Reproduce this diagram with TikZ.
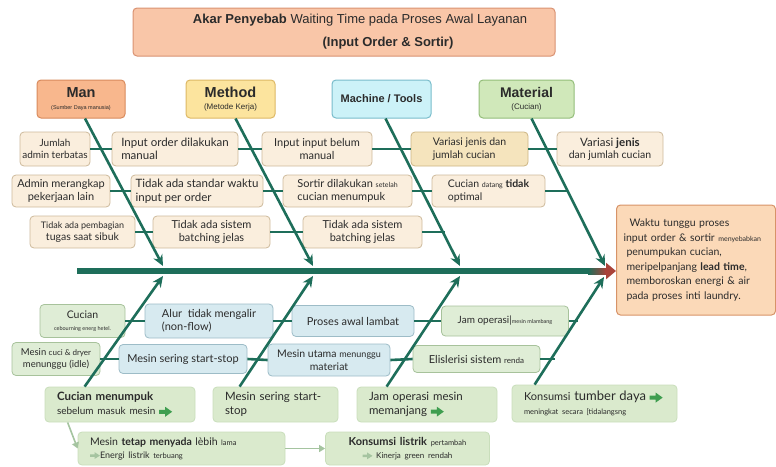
\documentclass[tikz,border=0pt]{standalone}
\usepackage{fontspec}
\setmainfont{Lato}
\newfontfamily\titlefont{Liberation Sans}
\usetikzlibrary{arrows.meta}

\definecolor{ink}{HTML}{2B2B2B}
\definecolor{spinegreen}{HTML}{1E6E5A}
\definecolor{effred}{HTML}{A9433A}
\definecolor{titlefill}{HTML}{F9C6A8}
\definecolor{titleline}{HTML}{D99272}
\definecolor{manfill}{HTML}{F8B78D}
\definecolor{manline}{HTML}{D88A5C}
\definecolor{methodfill}{HTML}{FCE49E}
\definecolor{methodline}{HTML}{DDB865}
\definecolor{machinefill}{HTML}{CCF2F8}
\definecolor{machineline}{HTML}{79BCCB}
\definecolor{materialfill}{HTML}{D0E8BA}
\definecolor{materialline}{HTML}{93BD79}
\definecolor{creamfill}{HTML}{FAEEDD}
\definecolor{creamline}{HTML}{CDB99B}
\definecolor{tanfill}{HTML}{F5E4BD}
\definecolor{tanline}{HTML}{CDB583}
\definecolor{sagefill}{HTML}{DFEDD6}
\definecolor{sageline}{HTML}{A7C29B}
\definecolor{skyfill}{HTML}{D7EAF0}
\definecolor{skyline}{HTML}{9DBCC7}
\definecolor{leaffill}{HTML}{DAEACD}
\definecolor{leafline}{HTML}{C9DEBB}
\definecolor{efffill}{HTML}{FBD9B8}
\definecolor{effline}{HTML}{D79368}
\definecolor{arrowgreen}{HTML}{3F9E50}
\definecolor{softgreen}{HTML}{A5C4A0}

\newcommand{\garrow}{\tikz[x=1pt,y=1pt,sharp corners,baseline=-3pt]{\fill[arrowgreen] (0,-2) -- (6,-2) -- (6,-5) -- (13,0) -- (6,5) -- (6,2) -- (0,2) -- cycle;}}
\newcommand{\sarrow}{\tikz[x=1pt,y=1pt,sharp corners,baseline=-2.5pt]{\fill[softgreen] (0,-1.3) -- (4.5,-1.3) -- (4.5,-3.4) -- (10,0) -- (4.5,3.4) -- (4.5,1.3) -- (0,1.3) -- cycle;}}

\begin{document}
\begin{tikzpicture}[x=1pt,y=-1pt,
  bone/.style={spinegreen, line width=2.6pt, -{Stealth[length=11pt,width=10pt]}},
  tick/.style={spinegreen, line width=2.6pt},
  mainline/.style={spinegreen, line width=6pt},
  box/.style={rounded corners=4pt, line width=0.8pt, inner sep=2pt, align=center, text=ink, font=\fontsize{10.5}{12.5}\selectfont},
  cause/.style={box, fill=creamfill, draw=creamline},
  cat/.style={box, minimum height=38pt, line width=1pt, font=\titlefont},
  sage/.style={box, fill=sagefill, draw=sageline},
  sky/.style={box, fill=skyfill, draw=skyline},
  leaf/.style={box, fill=leaffill, draw=leafline, align=left, inner xsep=12pt, font=\fontsize{11.5}{14}\selectfont},
  soft/.style={softgreen, line width=1.6pt, -{Triangle[length=6pt,width=7pt]}}
]
\useasboundingbox (0,0) rectangle (776,466);

\node[box, fill=titlefill, draw=titleline, line width=1pt, minimum width=422pt, minimum height=48pt] (titlebox) at (344,32) {};
\node[align=center, text=ink, font=\titlefont\fontsize{13}{23}\selectfont] (title) at ([xshift=16pt]titlebox.center)
  {\textbf{Akar Penyebab} Waiting Time pada Proses Awal Layanan\\\hspace*{56pt}\textbf{(Input Order \& Sortir)}};

\node[cat, fill=manfill, draw=manline, minimum width=88pt] (man) at (81,99)
  {{\fontsize{14.5}{15}\selectfont\textbf{Man}}\\{\fontsize{5.5}{7}\selectfont(Sumber Daya manusia)}};
\node[cat, fill=methodfill, draw=methodline, minimum width=89pt] (method) at (230.5,99)
  {{\fontsize{14.5}{15}\selectfont\textbf{Method}}\\{\fontsize{8}{9}\selectfont(Metode Kerja)}};
\node[cat, fill=machinefill, draw=machineline, minimum width=99pt] (machine) at (381.5,99)
  {\fontsize{11}{12}\selectfont\textbf{Machine / Tools}};
\node[cat, fill=materialfill, draw=materialline, minimum width=95pt] (material) at (526.5,99)
  {{\fontsize{14}{15}\selectfont\textbf{Material}}\\{\fontsize{8}{9}\selectfont(Cucian)}};

\node[box, fill=efffill, draw=effline, line width=1pt, minimum height=110pt, text width=145pt, inner xsep=7pt, align=left, font=\fontsize{10.5}{14.6}\selectfont] (eff) at (696,260)
  {\hspace*{6pt}Waktu tunggu proses\\input order \& sortir {\fontsize{7}{8}\selectfont menyebabkan}\\\hspace*{3pt}penumpukan cucian,\\\hspace*{3pt}meripelpanjang \textbf{lead time},\\\hspace*{3pt}memboroskan energi \& air\\\hspace*{3pt}pada proses inti laundry.};

\node[cause, minimum width=70pt, minimum height=34pt, font=\fontsize{10}{12}\selectfont] (a1) at (55,149) {Jumlah\\admin terbatas};
\node[cause, minimum width=98pt, minimum height=32pt, font=\fontsize{11}{13}\selectfont] (a2) at (61,191) {Admin merangkap\\pekerjaan lain};
\node[cause, minimum width=105pt, minimum height=32pt] (a3) at (82.5,232) {{\fontsize{9}{11}\selectfont Tidak ada pembagian}\\tugas saat sibuk};
\node[cause, minimum width=126pt, minimum height=34pt, align=left, font=\fontsize{11.5}{13.5}\selectfont] (b1) at (175,149) {Input order dilakukan\\manual};
\node[cause, minimum width=132pt, minimum height=32pt, align=left, font=\fontsize{11.5}{13.5}\selectfont] (b2) at (197,191) {Tidak ada standar waktu\\input per order};
\node[cause, minimum width=117pt, minimum height=32pt, font=\fontsize{11}{13}\selectfont] (b3) at (211.5,232) {Tidak ada sistem\\batching jelas};
\node[cause, minimum width=110pt, minimum height=34pt, font=\fontsize{11}{13}\selectfont] (c1) at (317,149) {Input input belum\\manual};
\node[cause, minimum width=129pt, minimum height=32pt, align=left, font=\fontsize{11}{13}\selectfont] (c2) at (347.5,191) {Sortir dilakukan {\fontsize{7}{8}\selectfont setelah}\\cucian menumpuk};
\node[cause, minimum width=119pt, minimum height=32pt, font=\fontsize{11}{13}\selectfont] (c3) at (362.5,232) {Tidak ada sistem\\batching jelas};
\node[box, fill=tanfill, draw=tanline, minimum width=117pt, minimum height=34pt, align=left] (d1) at (469.5,149) {Variasi jenis dan\\jumlah cucian};
\node[cause, minimum width=113pt, minimum height=32pt, align=left] (d2) at (488.5,191) {Cucian {\fontsize{7}{8}\selectfont datang} \textbf{tidak}\\optimal};
\node[cause, minimum width=106pt, minimum height=34pt] (e1) at (610,149) {{\fontsize{11.5}{13}\selectfont Variasi \textbf{jenis}}\\dan jumlah cucian};

\node[sage, minimum width=85pt, minimum height=33pt] (f1) at (82.5,321) {Cucian\\{\fontsize{5.5}{7}\selectfont cebourning energ hetel.}};
\node[sky, minimum width=128pt, minimum height=34pt, align=left, font=\fontsize{11}{13}\selectfont] (g1) at (209,321) {Alur\ \ tidak mengalir\\(non-flow)};
\node[sky, minimum width=122pt, minimum height=31pt, font=\fontsize{11}{13}\selectfont] (h1) at (353,321) {Proses awal lambat};
\node[sage, minimum width=127pt, minimum height=30pt, font=\fontsize{10}{12}\selectfont] (i1) at (505,321) {Jam operasi\textbar{}{\fontsize{5.5}{7}\selectfont mesin mlambang}};
\node[sage, minimum width=88pt, minimum height=33pt, font=\fontsize{9.5}{12}\selectfont] (f2) at (56,359) {Mesin {\fontsize{8}{9}\selectfont cuci \& dryer}\\menunggu (idle)};
\node[sky, minimum width=128pt, minimum height=29pt, font=\fontsize{11}{13}\selectfont] (g2) at (183,359) {Mesin sering start-stop};
\node[sky, minimum width=122pt, minimum height=32pt, font=\fontsize{10.5}{12.5}\selectfont] (h2) at (329,360) {Mesin utama {\fontsize{9}{10}\selectfont menunggu}\\materiat};
\node[sage, minimum width=127pt, minimum height=27pt, font=\fontsize{11}{13}\selectfont] (i2) at (476.5,359) {Elislerisi sistem {\fontsize{8}{9}\selectfont renda}};

\node[leaf, text width=126pt, minimum height=35pt] (j1) at (120,404.5) {\textbf{Cucian menumpuk}\\{\fontsize{10}{12}\selectfont sebelum masuk mesin \garrow}};
\node[leaf, text width=101pt, minimum height=35pt] (j2) at (275.5,404.5) {Mesin sering start-\\stop};
\node[leaf, text width=116pt, minimum height=35pt] (j3) at (427,404.5) {Jam operasi mesin\\memanjang \garrow};
\node[leaf, text width=141pt, minimum height=37pt, font=\fontsize{11}{14}\selectfont] (j4) at (594.5,403.5) {Konsumsi {\fontsize{13}{14}\selectfont tumber daya} \garrow\\{\fontsize{7.5}{9}\selectfont meningkat secara [tidalangsng}};
\node[leaf, text width=183pt, minimum height=33pt, font=\fontsize{10.5}{13}\selectfont] (k1) at (181.5,448.5) {Mesin \textbf{tetap menyada} lèbih {\fontsize{7.5}{9}\selectfont lama}\\{\fontsize{9}{11}\selectfont\sarrow Energi listrik {\fontsize{7.5}{9}\selectfont terbuang}}};
\node[leaf, text width=150pt, inner xsep=7pt, align=center, minimum height=33pt, font=\fontsize{11}{13}\selectfont] (k2) at (407.5,448.5) {\textbf{Konsumsi listrik} {\fontsize{7.5}{9}\selectfont pertambah}\\{\fontsize{8}{10}\selectfont\sarrow\ Kinerja green rendah}};

\coordinate (tail) at (77,271);
\coordinate (head) at (594,271);
\coordinate (u1) at (163,266);
\coordinate (u2) at (313,266);
\coordinate (u3) at (460,266);
\coordinate (u4) at (605,266);
\coordinate (l1) at (163,276);
\coordinate (l2) at (313,276);
\coordinate (l3) at (460,276);
\coordinate (l4) at (604,277);

\draw[mainline] (tail) -- (head);
\shade[left color=spinegreen, right color=effred] (588,268) rectangle (606,274);
\draw[effred, line width=6pt, -{Triangle[length=10pt,width=16pt]}] (head) ++(11,0) -- (eff.west |- head);

\draw[bone] ([xshift=4pt]man.south) -- (u1);
\draw[bone] ([xshift=5pt]method.south) -- (u2);
\draw[bone] ([xshift=4pt]machine.south) -- (u3);
\draw[bone] ([xshift=5pt]material.south) -- (u4);
\draw[bone] ([xshift=40pt]j1.north west) -- (l1);
\draw[bone] ([xshift=27pt]j2.north west) -- (l2);
\draw[bone] ([xshift=30pt]j3.north west) -- (l3);
\draw[bone] ([xshift=23pt]j4.north west) -- (l4);

\draw[tick] (a1.east) -- (b1.west);
\draw[tick] (a2.east) -- (b2.west);
\draw[tick] (a3.east) -- (b3.west);
\draw[tick] (b1.east) -- (c1.west);
\draw[tick] (b2.east) -- (c2.west);
\draw[tick] (b3.east) -- (c3.west);
\draw[tick] (c1.east) -- (d1.west);
\draw[tick] (c2.east) -- (d2.west);
\draw[tick] (c3.east) -- ++(23,0);
\draw[tick] (d1.east) -- (e1.west);
\draw[tick] (d2.east) -- ++(22,0);
\draw[tick] (f1.east) -- (g1.west);
\draw[tick] (g1.east) -- (h1.west);
\draw[tick] (h1.east) -- (i1.west);
\draw[tick] (i1.east) -- ++(9,0);
\draw[tick] (f2.east) -- (g2.west);
\draw[tick] (g2.east) -- (h2.west);
\draw[tick] (h2.east) -- (i2.west);
\draw[tick] (i2.east) -- ++(15,0);

\draw[soft] ([xshift=23pt]j1.south west) -- (k1.west);
\draw[soft] (k1.east) -- (k2.west);
\end{tikzpicture}
\end{document}
